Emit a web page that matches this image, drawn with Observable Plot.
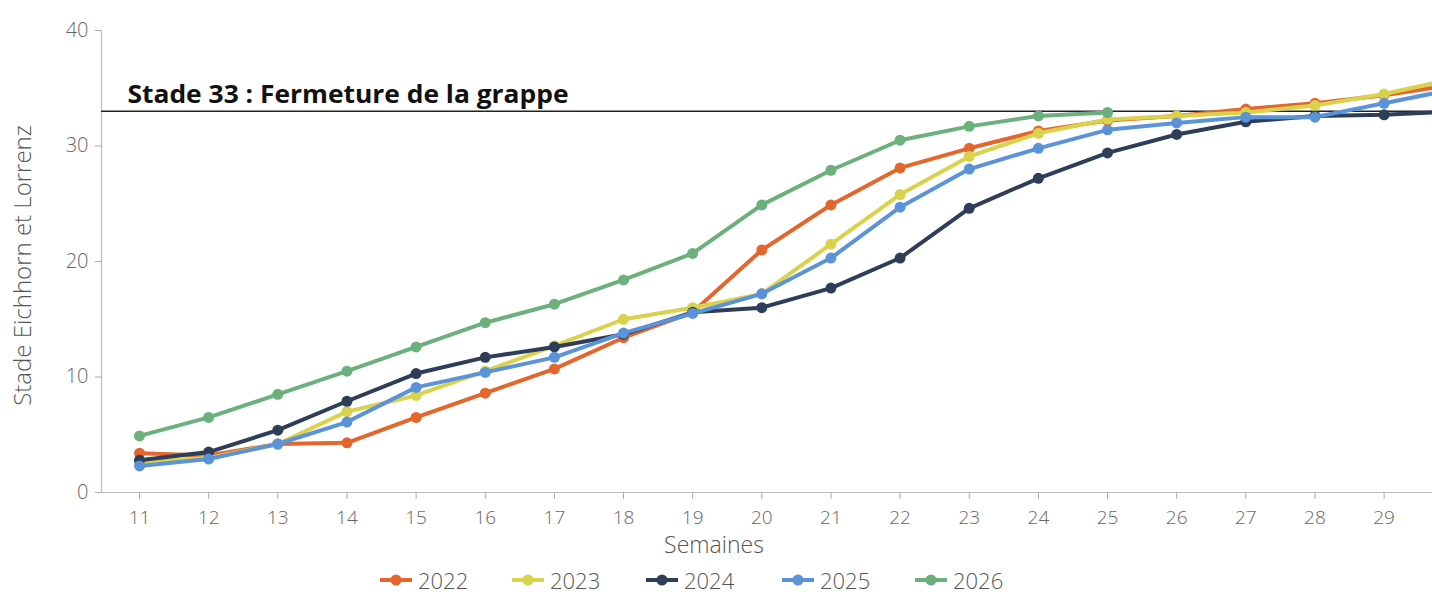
<!DOCTYPE html>
<html>
<head>
<meta charset="utf-8">
<script src="https://cdn.jsdelivr.net/npm/d3@7"></script>
<script src="https://cdn.jsdelivr.net/npm/@observablehq/plot@0.6"></script>
<style>
  html, body { margin: 0; padding: 0; background: #fff; }
  body { width: 1432px; height: 594px; position: relative; overflow: hidden; font-family: "Open Sans", Lato, sans-serif; }
  #legend { position: absolute; top: 567px; left: 0; width: 1432px; height: 26px; }
  .item { position: absolute; top: 0; height: 26px; display: flex; align-items: center; }
  .item span { font-size: 22px; font-weight: 300; color: #555; margin-left: 6px; line-height: 26px; }
</style>
</head>
<body>
<div id="chart"></div>
<div id="legend"></div>
<script>
// ---- data ----
const weeks = [11,12,13,14,15,16,17,18,19,20,21,22,23,24,25,26,27,28,29,30];
const years = ["2022","2023","2024","2025","2026"];
const colors = ["#E5662C","#D8D24C","#2E3D58","#5B93D8","#6BB07D"];
const s2022 = [3.4,3.2,4.2,4.3,6.5,8.6,10.7,13.4,15.6,21.0,24.9,28.1,29.8,31.3,32.2,32.6,33.2,33.7,34.4,35.3];
const s2023 = [2.6,3.0,4.2,7.0,8.4,10.5,12.7,15.0,16.0,17.2,21.5,25.8,29.1,31.1,32.3,32.6,32.9,33.5,34.5,35.8];
const s2024 = [2.8,3.5,5.4,7.9,10.3,11.7,12.6,13.7,15.6,16.0,17.7,20.3,24.6,27.2,29.4,31.0,32.1,32.6,32.7,33.0];
const s2025 = [2.3,2.9,4.2,6.1,9.1,10.4,11.7,13.8,15.5,17.2,20.3,24.7,28.0,29.8,31.4,32.0,32.5,32.5,33.7,34.9];
const s2026 = [4.9,6.5,8.5,10.5,12.6,14.7,16.3,18.4,20.7,24.9,27.9,30.5,31.7,32.6,32.9];
const xTicks = [11,12,13,14,15,16,17,18,19,20,21,22,23,24,25,26,27,28,29];
const yTicks = [0,10,20,30,40];
const stageValue = 33;
const stageLabel = "Stade 33 : Fermeture de la grappe";
const xLabel = "Semaines";
const yLabel = "Stade Eichhorn et Lorrenz";

const seriesValues = [s2022, s2023, s2024, s2025, s2026];
const series = years.map((yr, i) => seriesValues[i].map((v, j) => ({week: weeks[j], value: v, year: yr})));

const xDomain = [10.45, 29.7];

const marks = [
  Plot.ruleY([0], {stroke: "#bdbdbd", strokeWidth: 1.2}),
  Plot.ruleX([xDomain[0]], {stroke: "#bdbdbd", strokeWidth: 1.2}),
  Plot.axisY({ticks: yTicks, tickSize: 6, tickPadding: 7, fontSize: 20, fontWeight: 300, fill: "#666", stroke: "#aaa", label: null}),
  Plot.axisX({ticks: xTicks, tickSize: 7, tickPadding: 11, fontSize: 19, fontWeight: 300, fill: "#666", stroke: "#aaa", label: null}),
  Plot.ruleY([stageValue], {stroke: "#222", strokeWidth: 1.5}),
  Plot.text([{x: xDomain[0], y: stageValue, t: stageLabel}], {
    x: "x", y: "y", text: "t", textAnchor: "start", lineAnchor: "bottom", dx: 26, dy: -8,
    fontSize: 25, fontWeight: "bold", fill: "#111", fontFamily: "Open Sans"
  }),
  Plot.text([xLabel], {frameAnchor: "bottom", lineAnchor: "middle", dx: -53, dy: 53, fontSize: 23, fontWeight: 300, fill: "#555"}),
  Plot.text([yLabel], {frameAnchor: "left", textAnchor: "middle", lineAnchor: "middle", rotate: -90, dx: -78, dy: 4, fontSize: 24, fontWeight: 300, fill: "#555"})
];
series.forEach((d, i) => {
  marks.push(Plot.line(d, {x: "week", y: "value", stroke: colors[i], strokeWidth: 4, clip: true}));
  marks.push(Plot.dot(d, {x: "week", y: "value", fill: colors[i], r: 5.5, clip: true}));
});

const chart = Plot.plot({
  width: 1432, height: 558,
  marginLeft: 101, marginRight: 0, marginTop: 30, marginBottom: 66,
  x: {domain: xDomain},
  y: {domain: [0, 40]},
  style: {fontFamily: "'Open Sans', Lato, sans-serif", background: "#fff", overflow: "visible"},
  marks
});
document.getElementById("chart").appendChild(chart);

// squeeze the bold label to the original width (Calibri-like)
d3.select(chart).selectAll("text").filter(function() { return this.textContent === stageLabel; })
  .attr("textLength", 441).attr("lengthAdjust", "spacingAndGlyphs");

// legend
const legendX = [380, 512, 646, 782, 915];
const legend = d3.select("#legend");
years.forEach((yr, i) => {
  const it = legend.append("div").attr("class", "item").style("left", legendX[i] + "px");
  const svg = it.append("svg").attr("width", 32).attr("height", 14);
  svg.append("line").attr("x1", 0).attr("x2", 32).attr("y1", 7).attr("y2", 7).attr("stroke", colors[i]).attr("stroke-width", 4);
  svg.append("circle").attr("cx", 16).attr("cy", 7).attr("r", 5.5).attr("fill", colors[i]);
  it.append("span").text(yr);
});
</script>
</body>
</html>
